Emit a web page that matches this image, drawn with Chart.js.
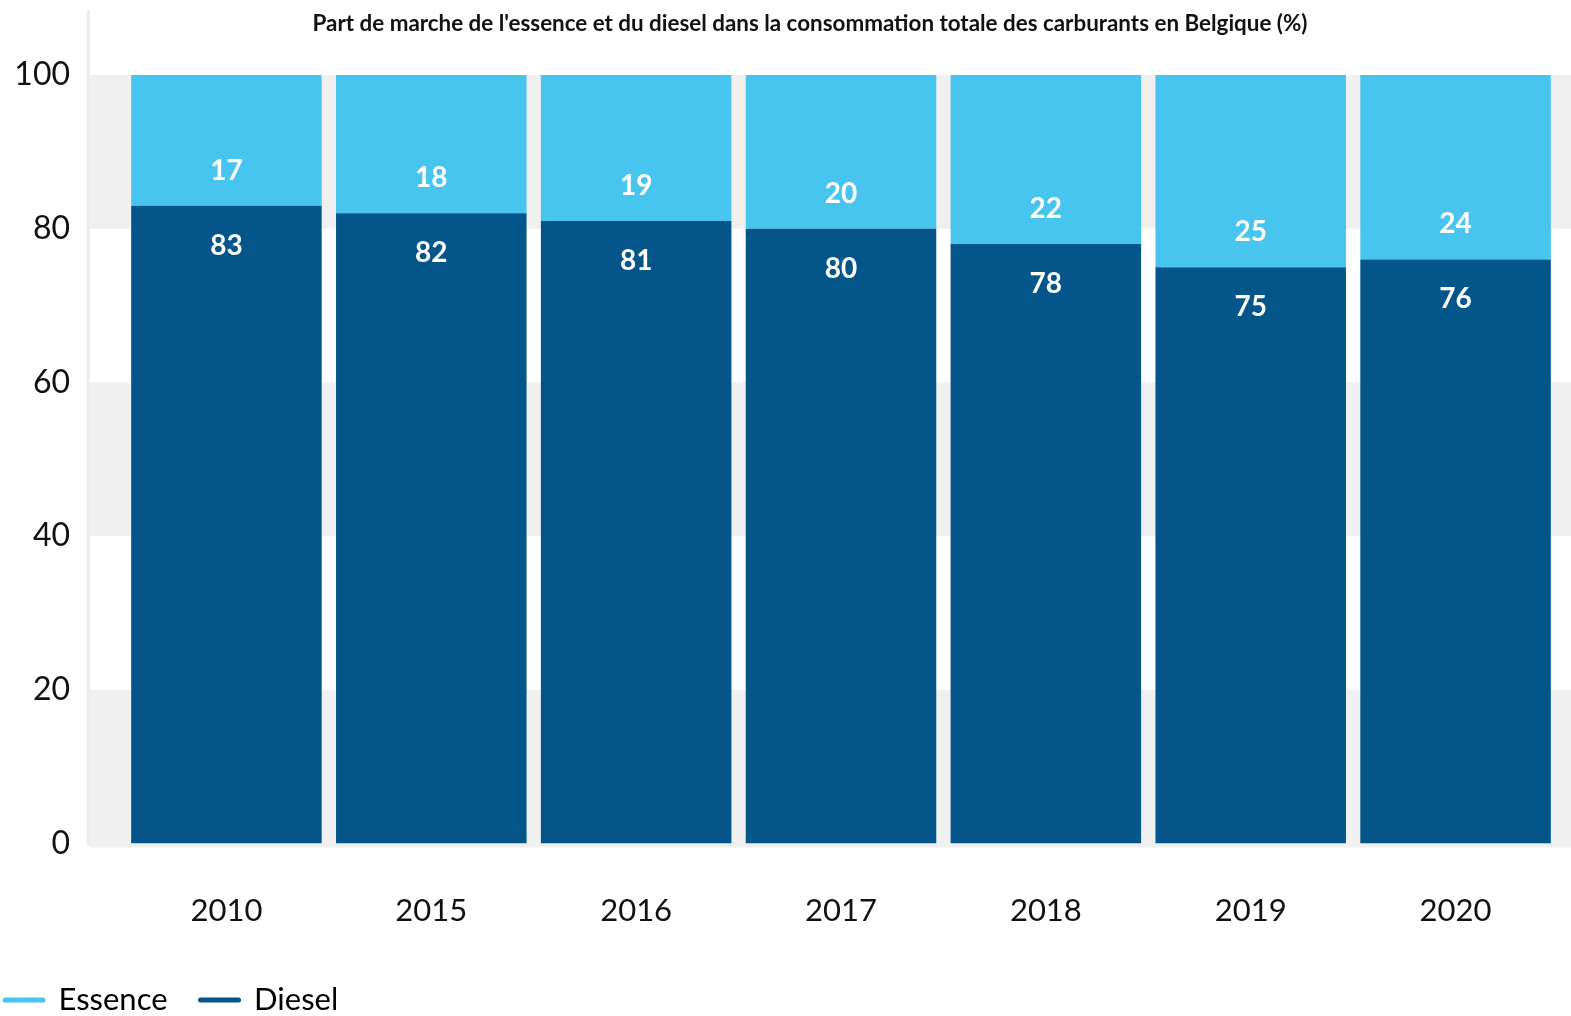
<!DOCTYPE html>
<html>
<head>
<meta charset="utf-8">
<script src="https://cdn.jsdelivr.net/npm/chart.js@4"></script>
<style>
  html, body { margin: 0; padding: 0; background: #fff; }
  #wrap { width: 1571px; height: 1016px; }
</style>
</head>
<body>
<div id="wrap"><canvas id="fuelChart"></canvas></div>
<script>
const years = ['2010', '2015', '2016', '2017', '2018', '2019', '2020'];
const diesel = [83, 82, 81, 80, 78, 75, 76];
const essence = [17, 18, 19, 20, 22, 25, 24];
const yTicks = [0, 20, 40, 60, 80, 100];
const titleText = "Part de marche de l'essence et du diesel dans la consommation totale des carburants en Belgique (%)";

const FONT = 'Lato, "Noto Sans", sans-serif';
const essenceColor = '#47c5ee';
const dieselColor = '#03558a';

// grey bands + thin axis line behind the bars
const bandsPlugin = {
    id: 'bands',
    beforeDatasetsDraw(chart) {
        const ctx = chart.ctx;
        const y = chart.scales.y;
        ctx.save();
        ctx.fillStyle = '#f0f0f0';
        for (let v = 0; v < 100; v += 40) {
            const top = y.getPixelForValue(v + 20);
            const bottom = v === 0 ? y.getPixelForValue(0) + 4 : y.getPixelForValue(v);
            ctx.fillRect(90, top, chart.width - 90, bottom - top);
        }
        ctx.fillStyle = '#ededed';
        ctx.fillRect(87, 10, 3, y.getPixelForValue(0) + 2 - 10);
        ctx.restore();
    }
};

// white value labels hugging the boundary between the two segments
const valueLabels = {
    id: 'valueLabels',
    afterDatasetsDraw(chart) {
        const ctx = chart.ctx;
        ctx.save();
        ctx.fillStyle = '#ffffff';
        ctx.font = 'bold 28px ' + FONT;
        ctx.textAlign = 'center';
        ctx.textBaseline = 'middle';
        chart.data.datasets.forEach((ds, i) => {
            chart.getDatasetMeta(i).data.forEach((bar, j) => {
                const y = ds.label === 'Diesel' ? bar.y + 40 : bar.base - 35;
                ctx.fillText(ds.data[j], bar.x, y);
            });
        });
        ctx.restore();
    }
};

const titlePlugin = {
    id: 'topTitle',
    afterDraw(chart) {
        const ctx = chart.ctx;
        ctx.save();
        ctx.fillStyle = '#111';
        ctx.font = 'bold 22.4px ' + FONT;
        ctx.textAlign = 'center';
        ctx.textBaseline = 'middle';
        ctx.fillText(titleText, 810, 24);
        ctx.restore();
    }
};

new Chart(document.getElementById('fuelChart'), {
    type: 'bar',
    data: {
        labels: years,
        datasets: [
            { label: 'Diesel', data: diesel, backgroundColor: dieselColor },
            { label: 'Essence', data: essence, backgroundColor: essenceColor },
        ],
    },
    options: {
        responsive: true,
        maintainAspectRatio: false,
        animation: false,
        layout: { padding: { top: 75, left: -28, right: 13, bottom: -9.5 } },
        datasets: { bar: { barPercentage: 0.93, categoryPercentage: 1, borderWidth: 0 } },
        scales: {
            x: {
                stacked: true,
                grid: { display: false, drawTicks: false },
                border: { display: false },
                ticks: { color: '#111', font: { family: FONT, size: 31 }, padding: 49 },
                afterFit: (scale) => { scale.height = 108; },
            },
            y: {
                stacked: true,
                min: 0,
                max: 100,
                grid: { display: false, drawTicks: false },
                border: { display: false },
                afterBuildTicks: (scale) => { scale.ticks = yTicks.map((v) => ({ value: v })); },
                ticks: { color: '#111', font: { family: FONT, size: 32 }, padding: 54 },
                afterFit: (scale) => { scale.width = 152; },
            },
        },
        plugins: {
            tooltip: { enabled: false },
            legend: {
                position: 'bottom',
                align: 'start',
                labels: {
                    usePointStyle: true,
                    pointStyleWidth: 38,
                    padding: 33,
                    color: '#111',
                    font: { family: FONT, size: 31 },
                    generateLabels: () => [
                        { text: 'Essence', fillStyle: essenceColor, strokeStyle: essenceColor, lineWidth: 5, lineCap: 'round', pointStyle: 'line', datasetIndex: 1 },
                        { text: 'Diesel', fillStyle: dieselColor, strokeStyle: dieselColor, lineWidth: 5, lineCap: 'round', pointStyle: 'line', datasetIndex: 0 },
                    ],
                },
            },
        },
    },
    plugins: [bandsPlugin, valueLabels, titlePlugin],
});
</script>
</body>
</html>
